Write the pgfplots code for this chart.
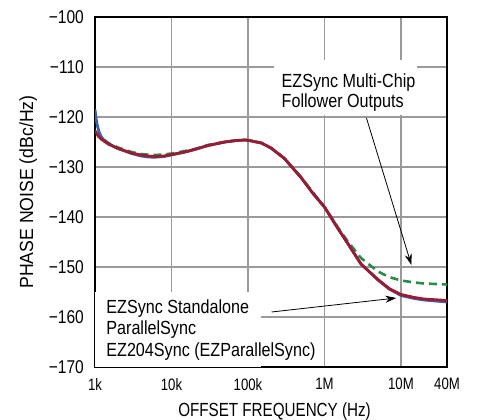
\documentclass[border=0pt]{standalone}
\usepackage{pgfplots}
\pgfplotsset{compat=1.18}
\usepackage{fontspec}
\setmainfont{Liberation Sans}
\newfontfamily\xtickf{Liberation Sans}[FakeStretch=0.80]
\newfontfamily\ytickf{Liberation Sans}[FakeStretch=0.84]
\newfontfamily\xlabf{Liberation Sans}[FakeStretch=0.80]
\newfontfamily\ylabf{Liberation Sans}[FakeStretch=0.93]
\newfontfamily\annf{Liberation Sans}[FakeStretch=0.85]
\usetikzlibrary{arrows.meta}
\definecolor{cred}{HTML}{9B1B30}
\definecolor{cblue}{HTML}{3C5FB0}
\definecolor{cgreen}{HTML}{2A8A48}
\definecolor{cgrid}{HTML}{9A9A9A}
\begin{document}
\begin{tikzpicture}
\begin{axis}[
  scale only axis, width=352bp, height=350bp,
  xmode=log, log basis x=10,
  xmin=1000, xmax=4e7, ymin=-170, ymax=-100,
  xtick={1000,1e4,1e5,1e6,1e7,4e7},
  xticklabels={1k,10k,100k,1M,10M,40M},
  ytick={-170,-160,-150,-140,-130,-120,-110,-100},
  yticklabels={−170,−160,−150,−140,−130,−120,−110,−100},
  minor x tick num=0, minor tick length=0pt, major tick length=0pt,
  grid=major, major grid style={color=cgrid, line width=1.2bp},
  axis line style={line width=1.6bp, black},
  xticklabel style={font=\fontsize{16.5bp}{18bp}\xtickf, inner sep=0pt, anchor=north, yshift=-11bp},
  yticklabel style={font=\fontsize{18.5bp}{20bp}\ytickf, inner sep=0pt, anchor=east, xshift=-11bp},
  xlabel={OFFSET FREQUENCY (Hz)},
  ylabel={PHASE NOISE (dBc/Hz)},
  xlabel style={font=\fontsize{19bp}{21bp}\xlabf, at={(axis description cs:0.51,-0.126)}, anchor=center, inner sep=0pt},
  ylabel style={font=\fontsize{19bp}{21bp}\ylabf, at={(axis description cs:-0.19,0.5)}, anchor=center, inner sep=0pt},
  clip=true,
]
% white label backgrounds
\fill[white] (axis cs:2.22e5,-108.6) rectangle (axis cs:1.64e7,-119.6);
\fill[white] (axis cs:1000,-170) rectangle (axis cs:1.46e5,-155);

% green dashed
\addplot[cgreen, line width=2.6bp, dash pattern=on 8bp off 5bp] coordinates {
(1000,-122.8) (1200,-124.1) (1500,-125.2) (2000,-126.1) (3000,-127.0) (4000,-127.4)
(5000,-127.55) (6000,-127.6) (8000,-127.5) (10000,-127.3) (15000,-126.8) (20000,-126.4)
(30000,-125.6) (50000,-124.95) (70000,-124.7) (90000,-124.6) (100000,-124.65)
(150000,-125.2) (200000,-126.2) (300000,-128.3) (500000,-132.1) (700000,-135.0)
(1e6,-138.0) (1.5e6,-142.1) (2e6,-144.8) (3e6,-148.2) (5e6,-150.9) (7e6,-152.0)
(1e7,-152.7) (1.5e7,-153.1) (2e7,-153.3) (4e7,-153.5)};
% blue
\addplot[cblue, line width=2.8bp] coordinates {
(1000,-118.5) (1030,-120.2) (1070,-121.6) (1120,-122.8) (1200,-123.9) (1350,-124.9)
(1500,-125.4) (2000,-126.3) (3000,-127.3) (4000,-127.8)
(5000,-128.0) (6000,-128.05) (8000,-127.9) (10000,-127.6) (15000,-127.0) (20000,-126.5)
(30000,-125.7) (50000,-125.0) (70000,-124.7) (90000,-124.6) (100000,-124.65)
(150000,-125.2) (200000,-126.2) (300000,-128.3) (500000,-132.2) (700000,-135.2)
(1e6,-138.0) (1.5e6,-142.3) (2e6,-145.2) (3e6,-149.4) (5e6,-152.6) (7e6,-154.4)
(1e7,-155.7) (1.5e7,-156.3) (2e7,-156.6) (4e7,-157.0)};
% red
\addplot[cred, line width=2.8bp] coordinates {
(1000,-122.8) (1100,-123.8) (1200,-124.4) (1500,-125.4) (2000,-126.3) (3000,-127.2) (4000,-127.6)
(5000,-127.8) (6000,-127.9) (8000,-127.8) (10000,-127.5) (15000,-127.0) (20000,-126.5)
(30000,-125.7) (50000,-125.0) (70000,-124.7) (90000,-124.6) (100000,-124.65)
(150000,-125.2) (200000,-126.2) (300000,-128.3) (500000,-132.2) (700000,-135.2)
(1e6,-138.0) (1.5e6,-142.3) (2e6,-145.2) (3e6,-149.4) (5e6,-152.5) (7e6,-154.3)
(1e7,-155.5) (1.5e7,-156.1) (2e7,-156.4) (4e7,-156.7)};

% annotations (base anchor = last line's baseline)
\node[anchor=base west, inner sep=0pt, align=left, font=\fontsize{19bp}{20bp}\annf]
  at (axis cs:2.74e5,-118.0) {EZSync Multi-Chip\\Follower Outputs};
\node[anchor=base west, inner sep=0pt, align=left, font=\fontsize{19bp}{21.5bp}\annf]
  at (axis cs:1400,-167.8) {EZSync Standalone\\ParallelSync\\EZ204Sync (EZParallelSync)};
\draw[-{Stealth[length=11bp,width=7bp]}, line width=0.8bp] (axis cs:3.54e6,-120.2) -- (axis cs:1.37e7,-149.6);
\draw[-{Stealth[length=11bp,width=7bp]}, line width=0.8bp] (axis cs:2.03e5,-159.0) -- (axis cs:8.7e6,-156.2);
\end{axis}
\pgfresetboundingbox
\path[use as bounding box] (-95bp,-53bp) rectangle (387bp,367bp);
\end{tikzpicture}
\end{document}
